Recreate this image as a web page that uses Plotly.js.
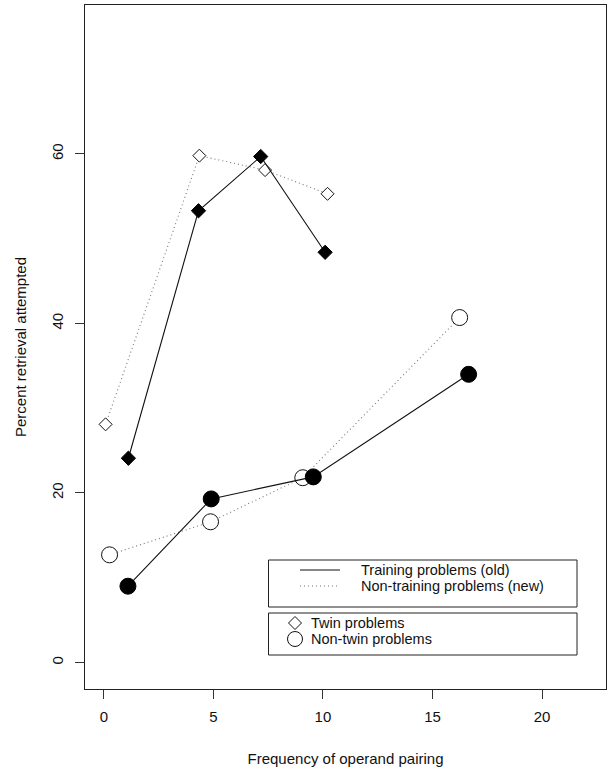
<!DOCTYPE html>
<html>
<head>
<meta charset="utf-8">
<script src="https://cdn.plot.ly/plotly-3.0.1.min.js"></script>
<style>html,body{margin:0;padding:0;background:#fff;}#chart{width:612px;height:769px;}</style>
</head>
<body>
<div id="chart"></div>
<script>
// Data
var twinOldX = [1.12, 4.32, 7.16, 10.10];
var twinOldY = [24.1, 53.3, 59.7, 48.4];
var twinNewX = [0.08, 4.36, 7.36, 10.21];
var twinNewY = [28.1, 59.8, 58.1, 55.3];
var nonTwinOldX = [1.10, 4.90, 9.56, 16.65];
var nonTwinOldY = [9.0, 19.3, 21.9, 34.0];
var nonTwinNewX = [0.26, 4.87, 9.08, 16.24];
var nonTwinNewY = [12.7, 16.6, 21.8, 40.7];
var xTicks = [0, 5, 10, 15, 20];
var yTicks = [0, 20, 40, 60];
var lineLegendLabels = ["Training problems (old)", "Non-training problems (new)"];
var symbolLegendLabels = ["Twin problems", "Non-twin problems"];

var FONT = "Liberation Sans, Arial, Helvetica, sans-serif";
var W = 612, H = 769;
var M = {l: 85, r: 6, t: 5, b: 80};
var PW = W - M.l - M.r, PH = H - M.t - M.b;
function px(x) { return (x - M.l) / PW; }
function py(y) { return (H - M.b - y) / PH; }

var solid = {color: "#111", width: 1.1};
var dotted = {color: "#777", width: 1.1, dash: "1px,3px"};

var traces = [
  {x: twinNewX, y: twinNewY, name: lineLegendLabels[1] + " / " + symbolLegendLabels[0], mode: "lines+markers",
   line: dotted, marker: {symbol: "diamond", size: 10, color: "#fff", line: {color: "#111", width: 1}}},
  {x: nonTwinNewX, y: nonTwinNewY, name: lineLegendLabels[1] + " / " + symbolLegendLabels[1], mode: "lines+markers",
   line: dotted, marker: {symbol: "circle", size: 16, color: "#fff", line: {color: "#111", width: 1}}},
  {x: twinOldX, y: twinOldY, name: lineLegendLabels[0] + " / " + symbolLegendLabels[0], mode: "lines+markers",
   line: solid, marker: {symbol: "diamond", size: 11, color: "#000", line: {color: "#000", width: 1}}},
  {x: nonTwinOldX, y: nonTwinOldY, name: lineLegendLabels[0] + " / " + symbolLegendLabels[1], mode: "lines+markers",
   line: solid, marker: {symbol: "circle", size: 16, color: "#000", line: {color: "#000", width: 1}}}
];

// Legend boxes drawn as shapes + annotations (R-style legend)
var shapes = [
  {type: "rect", xref: "paper", yref: "paper", x0: px(268.5), x1: px(577), y0: py(607), y1: py(560),
   line: {color: "#222", width: 1}, fillcolor: "rgba(255,255,255,0)"},
  {type: "rect", xref: "paper", yref: "paper", x0: px(268.5), x1: px(577), y0: py(655), y1: py(613),
   line: {color: "#222", width: 1}, fillcolor: "rgba(255,255,255,0)"},
  {type: "line", xref: "paper", yref: "paper", x0: px(300), x1: px(340), y0: py(570), y1: py(570), line: solid},
  {type: "line", xref: "paper", yref: "paper", x0: px(300), x1: px(340), y0: py(586), y1: py(586), line: dotted},
  {type: "path", xref: "paper", yref: "paper", xsizemode: "pixel", ysizemode: "pixel",
   xanchor: px(295), yanchor: py(623), path: "M -6.5 0 L 0 6.5 L 6.5 0 L 0 -6.5 Z",
   line: {color: "#111", width: 1}, fillcolor: "#fff"},
  {type: "circle", xref: "paper", yref: "paper", xsizemode: "pixel", ysizemode: "pixel",
   xanchor: px(295), yanchor: py(639), x0: -7.5, x1: 7.5, y0: -7.5, y1: 7.5,
   line: {color: "#111", width: 1}, fillcolor: "#fff"}
];
var annotations = [
  {text: lineLegendLabels[0], x: px(360), y: py(569.5)},
  {text: lineLegendLabels[1], x: px(360), y: py(586)},
  {text: symbolLegendLabels[0], x: px(310), y: py(622.5)},
  {text: symbolLegendLabels[1], x: px(310), y: py(639)}
].map(function (a) {
  return Object.assign({xref: "paper", yref: "paper", xanchor: "left", yanchor: "middle", showarrow: false,
    borderpad: 0, font: {family: FONT, size: 14.5, color: "#111"}}, a);
});

var axisCommon = {
  showgrid: false, zeroline: false, showline: true, mirror: true, linecolor: "#222", linewidth: 1,
  ticks: "outside", ticklen: 9, tickwidth: 1, tickcolor: "#333",
  tickfont: {family: FONT, size: 15, color: "#111"}, tickmode: "array"
};

var layout = {
  width: W, height: H, margin: M, showlegend: false,
  paper_bgcolor: "#fff", plot_bgcolor: "#fff",
  font: {family: FONT, size: 15, color: "#111"},
  xaxis: Object.assign({}, axisCommon, {
    range: [-0.86, 22.92], tickvals: xTicks, ticktext: xTicks.map(String), ticklabelstandoff: 5,
    title: {text: "Frequency of operand pairing", font: {family: FONT, size: 15, color: "#111"}, standoff: 29}
  }),
  yaxis: Object.assign({}, axisCommon, {
    range: [-3.13, 77.58], tickvals: yTicks, ticktext: yTicks.map(String), tickangle: -90, ticklabelstandoff: 6,
    title: {text: "Percent retrieval attempted", font: {family: FONT, size: 15, color: "#111"}, standoff: 18}
  }),
  shapes: shapes,
  annotations: annotations
};

Plotly.newPlot("chart", traces, layout, {staticPlot: true, displayModeBar: false});
</script>
</body>
</html>
